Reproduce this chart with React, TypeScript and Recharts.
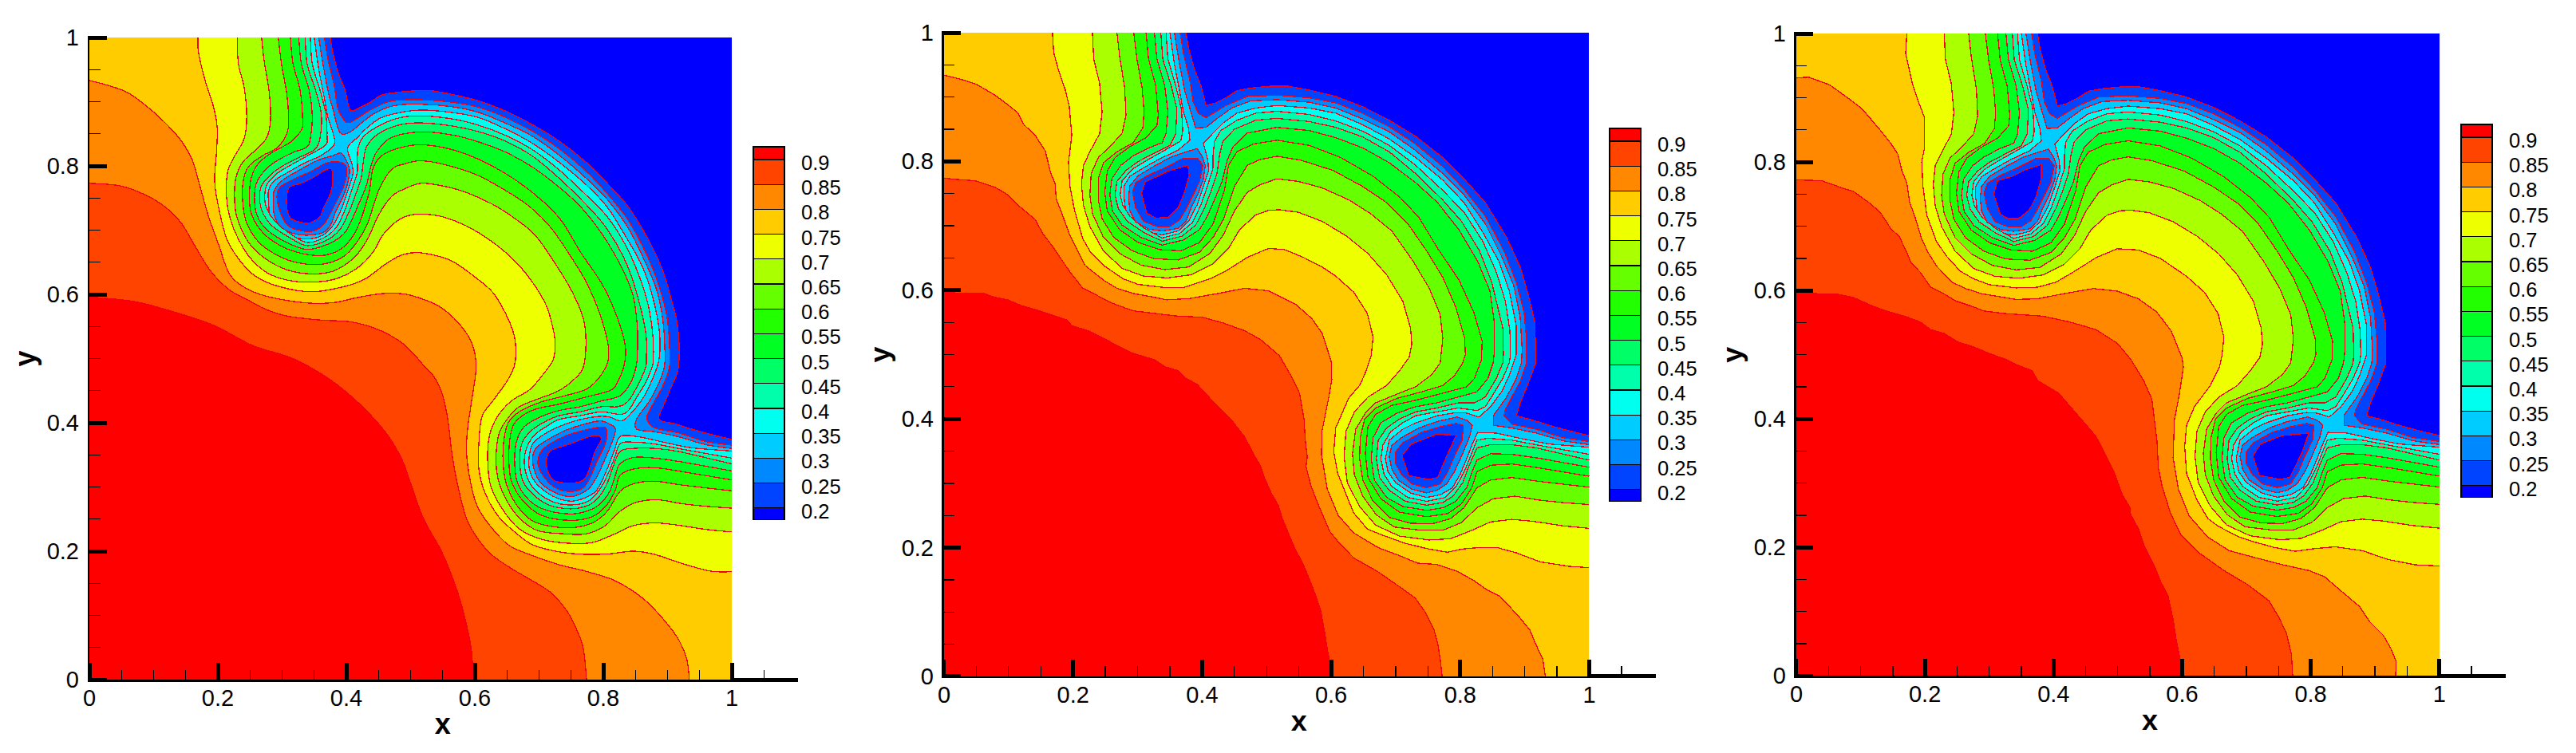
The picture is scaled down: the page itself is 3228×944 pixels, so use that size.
import React from "react";
import { ScatterChart, Scatter, XAxis, YAxis } from "recharts";

type Pt = [number, number];

// contour lines, region above each level lies towards the origin
const L90: Pt[] = [[0,.596],[.069,.589],[.127,.574],[.193,.552],[.255,.520],[.317,.500],[.375,.467],[.421,.429],[.462,.384],[.486,.344],[.499,.309],[.520,.251],[.549,.198],[.572,.140],[.586,.090],[.595,.044],[.597,0]];
const L85: Pt[] = [[0,.773],[.048,.769],[.089,.754],[.118,.736],[.143,.711],[.164,.676],[.189,.636],[.218,.607],[.247,.591],[.276,.576],[.309,.566],[.359,.560],[.408,.557],[.450,.545],[.483,.527],[.504,.508],[.524,.485],[.537,.471],[.549,.446],[.558,.405],[.564,.355],[.572,.309],[.587,.251],[.607,.216],[.628,.193],[.657,.173],[.686,.156],[.719,.135],[.744,.106],[.759,.077],[.769,.048],[.774,0]];
const L80: Pt[] = [[0,.933],[.027,.926],[.060,.914],[.094,.889],[.123,.862],[.143,.839],[.160,.810],[.172,.769],[.185,.723],[.201,.678],[.218,.632],[.243,.610],[.276,.597],[.334,.587],[.379,.587],[.417,.595],[.454,.601],[.487,.601],[.512,.595],[.545,.581],[.574,.556],[.595,.525],[.602,.487],[.595,.434],[.589,.392],[.587,.355],[.593,.309],[.603,.272],[.621,.243],[.652,.210],[.690,.193],[.731,.179],[.772,.169],[.814,.156],[.843,.140],[.868,.121],[.897,.090],[.918,.061],[.930,.032],[.934,0]];
const L75: Pt[] = [[.169,1],[.170,.976],[.181,.930],[.193,.893],[.199,.860],[.198,.823],[.195,.777],[.201,.736],[.214,.686],[.234,.653],[.259,.628],[.296,.612],[.346,.604],[.396,.612],[.429,.624],[.458,.645],[.483,.660],[.508,.665],[.537,.661],[.566,.651],[.599,.628],[.628,.603],[.648,.570],[.661,.537],[.664,.508],[.661,.487],[.649,.463],[.628,.434],[.611,.409],[.606,.363],[.606,.330],[.615,.293],[.636,.255],[.661,.231],[.690,.210],[.731,.199],[.773,.195],[.810,.196],[.847,.200],[.880,.195],[.922,.181],[.967,.169],[1,.168]];
const L70: Pt[] = [[.230,1],[.232,.959],[.241,.922],[.245,.877],[.241,.843],[.226,.815],[.216,.794],[.213,.765],[.216,.732],[.226,.699],[.247,.661],[.276,.634],[.309,.622],[.346,.619],[.383,.624],[.417,.641],[.441,.665],[.458,.694],[.483,.717],[.503,.724],[.520,.725],[.549,.721],[.586,.707],[.624,.684],[.657,.657],[.686,.624],[.711,.583],[.723,.541],[.725,.516],[.721,.496],[.706,.475],[.686,.452],[.657,.434],[.636,.411],[.623,.381],[.620,.342],[.625,.301],[.644,.264],[.669,.235],[.706,.218],[.752,.212],[.785,.214],[.818,.227],[.847,.240],[.880,.244],[.913,.241],[.959,.234],[1,.230]];
const L65: Pt[] = [[.268,1],[.272,.964],[.280,.914],[.282,.872],[.276,.844],[.259,.825],[.239,.806],[.228,.781],[.226,.748],[.230,.719],[.247,.682],[.272,.657],[.305,.639],[.342,.632],[.379,.636],[.412,.657],[.433,.686],[.450,.723],[.470,.752],[.490,.764],[.516,.773],[.549,.769],[.586,.759],[.628,.740],[.661,.719],[.694,.692],[.727,.645],[.752,.603],[.769,.562],[.773,.525],[.769,.487],[.756,.469],[.731,.450],[.698,.437],[.669,.425],[.653,.409],[.638,.384],[.633,.346],[.636,.313],[.649,.280],[.670,.251],[.698,.232],[.740,.227],[.773,.227],[.802,.239],[.826,.262],[.851,.276],[.885,.280],[.922,.274],[.959,.270],[1,.267]];
const L60: Pt[] = [[.294,1],[.299,.959],[.307,.914],[.310,.877],[.308,.852],[.293,.829],[.268,.815],[.247,.798],[.239,.773],[.239,.740],[.245,.711],[.263,.682],[.292,.661],[.325,.649],[.363,.647],[.396,.659],[.417,.682],[.433,.710],[.450,.761],[.470,.794],[.490,.803],[.516,.808],[.553,.802],[.603,.786],[.649,.761],[.686,.736],[.719,.703],[.748,.661],[.773,.620],[.793,.574],[.807,.525],[.808,.500],[.804,.487],[.791,.467],[.773,.452],[.740,.442],[.702,.432],[.669,.417],[.652,.400],[.645,.371],[.644,.338],[.649,.305],[.665,.272],[.690,.247],[.723,.238],[.756,.237],[.785,.245],[.806,.262],[.826,.293],[.847,.305],[.880,.309],[.922,.303],[1,.294]];
const L55: Pt[] = [[.313,1],[.317,.959],[.328,.918],[.332,.872],[.330,.856],[.313,.837],[.288,.823],[.265,.806],[.253,.785],[.249,.752],[.253,.723],[.272,.694],[.301,.674],[.334,.663],[.367,.661],[.396,.674],[.417,.703],[.435,.757],[.441,.794],[.454,.815],[.479,.827],[.516,.833],[.566,.825],[.615,.806],[.665,.777],[.707,.744],[.736,.713],[.765,.665],[.798,.616],[.821,.566],[.834,.521],[.833,.492],[.822,.463],[.810,.450],[.773,.440],[.731,.429],[.694,.421],[.669,.407],[.657,.388],[.653,.347],[.657,.309],[.677,.276],[.706,.255],[.748,.248],[.781,.253],[.802,.268],[.818,.293],[.826,.318],[.847,.328],[.880,.330],[.922,.324],[1,.311]];
const L50: Pt[] = [[.326,1],[.330,.959],[.342,.918],[.347,.877],[.344,.843],[.338,.829],[.317,.821],[.292,.808],[.274,.794],[.260,.773],[.257,.748],[.261,.723],[.276,.701],[.305,.682],[.338,.670],[.371,.678],[.396,.694],[.408,.715],[.419,.740],[.431,.769],[.439,.802],[.448,.823],[.470,.844],[.516,.853],[.566,.848],[.607,.837],[.649,.821],[.690,.798],[.731,.767],[.765,.736],[.798,.694],[.827,.645],[.846,.599],[.853,.549],[.853,.504],[.851,.487],[.843,.463],[.826,.442],[.797,.434],[.764,.425],[.731,.419],[.702,.409],[.677,.394],[.665,.371],[.662,.338],[.667,.305],[.686,.278],[.711,.264],[.748,.258],[.773,.262],[.793,.272],[.810,.293],[.820,.322],[.826,.336],[.847,.346],[.880,.345],[.922,.339],[1,.325]];
const L45: Pt[] = [[.336,1],[.339,.959],[.352,.918],[.361,.881],[.359,.843],[.350,.825],[.326,.813],[.301,.800],[.282,.786],[.268,.769],[.265,.748],[.270,.727],[.284,.707],[.309,.690],[.338,.676],[.369,.684],[.390,.701],[.404,.728],[.415,.757],[.423,.781],[.427,.810],[.432,.831],[.450,.850],[.483,.864],[.516,.867],[.566,.862],[.607,.853],[.649,.838],[.690,.815],[.731,.781],[.773,.740],[.802,.707],[.830,.661],[.849,.612],[.866,.541],[.867,.500],[.866,.487],[.856,.463],[.839,.434],[.822,.425],[.797,.425],[.764,.417],[.731,.411],[.706,.400],[.686,.386],[.673,.367],[.670,.338],[.675,.309],[.690,.289],[.715,.272],[.748,.266],[.773,.270],[.789,.280],[.804,.301],[.814,.328],[.826,.355],[.847,.360],[.880,.360],[.918,.355],[1,.336]];
const L40: Pt[] = [[.344,1],[.347,.959],[.359,.918],[.368,.881],[.370,.848],[.367,.832],[.338,.815],[.313,.801],[.292,.788],[.276,.770],[.273,.748],[.277,.732],[.288,.715],[.309,.697],[.338,.681],[.365,.688],[.385,.705],[.398,.732],[.408,.761],[.417,.790],[.417,.810],[.419,.831],[.429,.848],[.454,.864],[.483,.875],[.516,.878],[.566,.873],[.607,.863],[.649,.847],[.690,.825],[.731,.794],[.773,.755],[.806,.721],[.835,.676],[.856,.628],[.870,.583],[.877,.537],[.878,.500],[.876,.487],[.866,.463],[.851,.438],[.839,.419],[.826,.413],[.797,.417],[.764,.411],[.731,.405],[.711,.394],[.692,.380],[.680,.359],[.677,.338],[.682,.314],[.694,.295],[.719,.278],[.748,.272],[.777,.278],[.795,.297],[.808,.322],[.818,.347],[.826,.367],[.843,.370],[.880,.367],[.922,.359],[1,.345]];
const L35: Pt[] = [[.350,1],[.357,.951],[.365,.910],[.371,.877],[.379,.852],[.381,.833],[.362,.817],[.334,.804],[.309,.790],[.288,.777],[.279,.762],[.279,.744],[.282,.719],[.297,.703],[.317,.690],[.338,.686],[.363,.692],[.379,.707],[.392,.732],[.402,.761],[.410,.786],[.409,.802],[.402,.828],[.417,.844],[.433,.860],[.454,.875],[.483,.883],[.516,.887],[.566,.883],[.607,.875],[.649,.857],[.690,.835],[.731,.806],[.773,.771],[.806,.736],[.835,.690],[.860,.645],[.876,.599],[.887,.545],[.887,.500],[.876,.467],[.864,.442],[.847,.419],[.829,.403],[.810,.409],[.794,.410],[.764,.405],[.731,.394],[.711,.384],[.690,.367],[.684,.338],[.688,.318],[.700,.301],[.723,.285],[.748,.278],[.769,.282],[.788,.293],[.800,.314],[.810,.338],[.818,.359],[.827,.379],[.856,.378],[.897,.369],[.938,.361],[1,.356]];
const L30: Pt[] = [[.357,1],[.365,.951],[.373,.910],[.379,.889],[.390,.852],[.406,.853],[.425,.868],[.446,.883],[.475,.894],[.516,.896],[.566,.892],[.607,.883],[.649,.866],[.690,.846],[.731,.817],[.773,.781],[.806,.748],[.839,.703],[.864,.653],[.883,.607],[.893,.558],[.896,.508],[.895,.487],[.887,.463],[.872,.434],[.852,.406],[.852,.390],[.880,.386],[.918,.378],[.959,.366],[1,.360]];
const L25: Pt[] = [[.366,1],[.371,.968],[.381,.926],[.386,.893],[.394,.875],[.406,.868],[.437,.887],[.470,.901],[.516,.903],[.566,.899],[.607,.891],[.649,.875],[.690,.854],[.731,.827],[.773,.792],[.806,.757],[.839,.715],[.868,.661],[.887,.612],[.899,.566],[.903,.521],[.903,.487],[.893,.458],[.880,.434],[.870,.415],[.868,.405],[.880,.392],[.918,.384],[.959,.371],[1,.365]];
const L20: Pt[] = [[.375,1],[.379,.976],[.388,.943],[.398,.918],[.406,.887],[.421,.891],[.437,.899],[.454,.910],[.475,.914],[.507,.917],[.533,.917],[.566,.911],[.607,.901],[.649,.885],[.690,.864],[.731,.839],[.773,.806],[.806,.773],[.839,.736],[.872,.682],[.893,.636],[.905,.595],[.916,.549],[.917,.487],[.905,.454],[.893,.425],[.887,.405],[.913,.398],[.938,.390],[.967,.382],[1,.374]];

// closed pockets of low values around the two saddle points
const UPPER_30: Pt[] = [[.392,.820],[.400,.808],[.405,.794],[.402,.773],[.394,.750],[.383,.728],[.375,.707],[.363,.696],[.338,.692],[.317,.695],[.297,.706],[.288,.723],[.286,.744],[.288,.762],[.301,.778],[.326,.793],[.354,.808],[.379,.816]];
const UPPER_25: Pt[] = [[.371,.805],[.393,.805],[.401,.794],[.396,.769],[.386,.748],[.375,.726],[.365,.709],[.350,.699],[.330,.699],[.309,.707],[.297,.728],[.292,.752],[.297,.767],[.317,.779],[.342,.790]];
const UPPER_20: Pt[] = [[.375,.796],[.379,.777],[.375,.757],[.365,.736],[.359,.721],[.342,.711],[.330,.712],[.313,.719],[.307,.740],[.311,.766],[.330,.773],[.350,.783]];
const LOWER_30: Pt[] = [[.795,.403],[.810,.398],[.819,.390],[.814,.371],[.802,.342],[.791,.318],[.779,.299],[.764,.289],[.748,.285],[.725,.291],[.704,.305],[.694,.322],[.690,.342],[.694,.359],[.709,.371],[.736,.386],[.764,.396]];
const LOWER_25: Pt[] = [[.794,.393],[.805,.390],[.803,.367],[.791,.342],[.781,.318],[.769,.299],[.748,.293],[.725,.299],[.709,.314],[.699,.332],[.700,.349],[.711,.363],[.740,.379],[.769,.388]];
const LOWER_20: Pt[] = [[.797,.376],[.787,.355],[.779,.330],[.769,.311],[.748,.306],[.722,.311],[.712,.330],[.712,.345],[.719,.357],[.748,.367],[.781,.379]];

// second panel, rougher outer contours and pocket cores
const P2_L90: Pt[] = [[0,.597],[.029,.595],[.062,.595],[.078,.589],[.099,.585],[.120,.576],[.141,.570],[.165,.562],[.190,.554],[.198,.545],[.223,.537],[.248,.525],[.268,.514],[.293,.502],[.326,.492],[.343,.481],[.363,.475],[.375,.463],[.392,.454],[.417,.427],[.445,.399],[.466,.372],[.481,.343],[.491,.326],[.496,.310],[.508,.283],[.518,.266],[.524,.246],[.536,.217],[.545,.196],[.556,.176],[.563,.159],[.576,.126],[.584,.101],[.590,.068],[.594,.043],[.597,.027],[.597,0]];
const P2_L85: Pt[] = [[0,.774],[.021,.772],[.048,.770],[.079,.760],[.099,.748],[.116,.731],[.141,.710],[.153,.688],[.169,.667],[.194,.630],[.215,.603],[.235,.593],[.260,.580],[.293,.568],[.326,.564],[.359,.560],[.400,.558],[.433,.549],[.466,.537],[.491,.523],[.520,.498],[.539,.465],[.551,.440],[.558,.399],[.560,.366],[.563,.341],[.561,.326],[.569,.295],[.582,.262],[.598,.225],[.611,.209],[.635,.184],[.672,.163],[.705,.140],[.730,.122],[.745,.101],[.759,.074],[.765,.052],[.769,.027],[.772,0]];
const P2_L80: Pt[] = [[0,.934],[.025,.928],[.050,.920],[.079,.903],[.099,.888],[.114,.876],[.124,.857],[.141,.841],[.157,.816],[.165,.783],[.172,.766],[.174,.741],[.182,.721],[.194,.688],[.204,.667],[.219,.638],[.248,.615],[.268,.603],[.293,.595],[.326,.589],[.345,.585],[.380,.587],[.425,.595],[.466,.603],[.503,.599],[.545,.578],[.570,.556],[.586,.533],[.600,.490],[.601,.461],[.596,.432],[.586,.382],[.585,.345],[.594,.291],[.611,.250],[.635,.223],[.673,.200],[.705,.188],[.734,.176],[.763,.174],[.796,.163],[.821,.149],[.842,.134],[.862,.124],[.891,.093],[.908,.072],[.918,.048],[.928,.027],[.932,0]];
const P2_L75: Pt[] = [[.168,1],[.170,.969],[.178,.940],[.188,.911],[.194,.886],[.198,.841],[.193,.799],[.195,.762],[.202,.725],[.215,.680],[.227,.659],[.248,.638],[.277,.618],[.301,.609],[.343,.604],[.371,.604],[.413,.618],[.437,.630],[.470,.651],[.503,.665],[.528,.663],[.557,.651],[.586,.636],[.607,.622],[.635,.597],[.656,.564],[.665,.527],[.662,.498],[.652,.469],[.644,.452],[.627,.432],[.607,.386],[.604,.349],[.610,.316],[.623,.283],[.635,.254],[.656,.229],[.681,.219],[.714,.207],[.751,.198],[.780,.193],[.804,.198],[.827,.200],[.858,.200],[.887,.192],[.924,.178],[.969,.171],[1,.169]];
const P2_UPPER_20: Pt[] = [[.378,.794],[.380,.779],[.372,.750],[.363,.729],[.347,.713],[.328,.712],[.314,.720],[.306,.750],[.312,.768],[.347,.785]];
const P2_LOWER_20: Pt[] = [[.794,.375],[.782,.349],[.765,.309],[.751,.306],[.720,.312],[.710,.343],[.724,.361],[.763,.376]];

// third panel
const P3_L90: Pt[] = [[0,.597],[.031,.595],[.065,.594],[.089,.589],[.118,.576],[.143,.567],[.168,.560],[.193,.551],[.209,.539],[.230,.533],[.251,.520],[.276,.512],[.300,.502],[.325,.493],[.346,.483],[.367,.475],[.375,.460],[.408,.440],[.441,.402],[.466,.373],[.483,.340],[.495,.315],[.507,.282],[.519,.262],[.520,.251],[.532,.229],[.542,.200],[.557,.171],[.567,.146],[.578,.125],[.586,.088],[.591,.055],[.597,.026],[.597,0]];
const P3_L85: Pt[] = [[0,.772],[.039,.771],[.073,.759],[.089,.754],[.114,.736],[.131,.721],[.147,.696],[.160,.684],[.172,.659],[.178,.644],[.193,.628],[.209,.605],[.226,.597],[.247,.584],[.271,.576],[.292,.568],[.325,.564],[.383,.560],[.425,.551],[.466,.539],[.499,.518],[.520,.493],[.540,.460],[.553,.431],[.561,.365],[.563,.324],[.569,.295],[.582,.253],[.598,.220],[.627,.191],[.665,.164],[.702,.142],[.735,.117],[.750,.092],[.762,.067],[.770,.034],[.772,0]];
const P3_L80: Pt[] = [[0,.931],[.019,.932],[.052,.920],[.081,.899],[.102,.883],[.131,.849],[.147,.829],[.158,.812],[.164,.787],[.172,.767],[.176,.738],[.185,.713],[.195,.680],[.205,.659],[.218,.638],[.242,.613],[.263,.603],[.288,.595],[.342,.586],[.375,.587],[.416,.595],[.462,.603],[.499,.599],[.532,.587],[.560,.567],[.583,.537],[.600,.495],[.602,.481],[.596,.440],[.588,.398],[.586,.340],[.594,.291],[.611,.249],[.640,.216],[.673,.195],[.710,.185],[.756,.173],[.797,.164],[.822,.154],[.851,.129],[.876,.108],[.892,.084],[.913,.063],[.925,.042],[.933,.022],[.932,0]];
const P3_L75: Pt[] = [[.172,1],[.170,.969],[.180,.924],[.191,.891],[.199,.870],[.199,.820],[.195,.800],[.197,.762],[.203,.717],[.218,.676],[.234,.653],[.255,.630],[.276,.618],[.300,.609],[.342,.604],[.375,.605],[.404,.613],[.433,.630],[.466,.651],[.499,.665],[.532,.663],[.566,.650],[.607,.622],[.635,.597],[.656,.564],[.665,.527],[.662,.498],[.658,.481],[.644,.452],[.619,.419],[.607,.390],[.604,.357],[.607,.315],[.623,.274],[.640,.245],[.656,.233],[.689,.216],[.714,.208],[.743,.200],[.776,.194],[.805,.198],[.838,.201],[.880,.195],[.921,.181],[.962,.173],[1,.171]];
const P3_UPPER_20: Pt[] = [[.381,.796],[.381,.775],[.373,.746],[.362,.725],[.346,.712],[.329,.712],[.317,.719],[.307,.750],[.313,.771],[.334,.777],[.354,.787]];
const P3_LOWER_20: Pt[] = [[.797,.378],[.787,.349],[.768,.309],[.752,.306],[.720,.312],[.710,.342],[.722,.361],[.755,.374]];

// colour of the band just above each level, low to high
const BAND_COLORS = ["#0044ff", "#0088ff", "#00ccff", "#00ffee", "#00ffaa", "#00ff66", "#00ff22", "#22ff00", "#66ff00", "#aaff00", "#eeff00", "#ffcc00", "#ff8800", "#ff4400", "#ff0000"];
const LEGEND_LABELS = ["0.9", "0.85", "0.8", "0.75", "0.7", "0.65", "0.6", "0.55", "0.5", "0.45", "0.4", "0.35", "0.3", "0.25", "0.2"];
const LEGEND_COLORS = ["#ff0000", "#ff4400", "#ff8800", "#ffcc00", "#eeff00", "#aaff00", "#66ff00", "#22ff00", "#00ff22", "#00ff66", "#00ffaa", "#00ffee", "#00ccff", "#0088ff", "#0044ff", "#0000ff"];

const MID_LEVELS = [L20, L25, L30, L35, L40, L45, L50, L55, L60, L65, L70];
const P1_CONTOURS = [...MID_LEVELS, L75, L80, L85, L90];
const P2_CONTOURS = [...MID_LEVELS, P2_L75, P2_L80, P2_L85, P2_L90];
const P3_CONTOURS = [...MID_LEVELS, P3_L75, P3_L80, P3_L85, P3_L90];

const POCKET_COLORS = ["#0088ff", "#0044ff", "#0000ff", "#0088ff", "#0044ff", "#0000ff"];
const P1_POCKETS = [UPPER_30, UPPER_25, UPPER_20, LOWER_30, LOWER_25, LOWER_20];
const P2_POCKETS = [UPPER_30, UPPER_25, P2_UPPER_20, LOWER_30, LOWER_25, P2_LOWER_20];
const P3_POCKETS = [UPPER_30, UPPER_25, P3_UPPER_20, LOWER_30, LOWER_25, P3_LOWER_20];

const X_TICKS = [0, 0.05, 0.1, 0.15, 0.2, 0.25, 0.3, 0.35, 0.4, 0.45, 0.5, 0.55, 0.6, 0.65, 0.7, 0.75, 0.8, 0.85, 0.9, 0.95, 1, 1.05];
const Y_TICKS = [0, 0.05, 0.1, 0.15, 0.2, 0.25, 0.3, 0.35, 0.4, 0.45, 0.5, 0.55, 0.6, 0.65, 0.7, 0.75, 0.8, 0.85, 0.9, 0.95, 1];
const MAJOR_TICKS = [0, 0.2, 0.4, 0.6, 0.8, 1];

const FONT = "'Liberation Sans', Arial, sans-serif";
const LINE_COLOR = "#f00014";

type XY = { x: number; y: number };

// catmull-rom through the read points so panel one stays smooth
function smoothPath(p: XY[], closed: boolean) {
  const at = (i: number) => (closed ? p[(i + p.length) % p.length] : p[Math.max(0, Math.min(p.length - 1, i))]);
  let d = `M${p[0].x},${p[0].y}`;
  const n = closed ? p.length : p.length - 1;
  for (let i = 0; i < n; i++) {
    const a = at(i - 1), b = at(i), c = at(i + 1), e = at(i + 2);
    d += `C${b.x + (c.x - a.x) / 6},${b.y + (c.y - a.y) / 6} ${c.x - (e.x - b.x) / 6},${c.y - (e.y - b.y) / 6} ${c.x},${c.y}`;
  }
  return closed ? d + "Z" : d;
}

function roughPath(p: XY[], closed: boolean) {
  return "M" + p.map((q) => `${q.x},${q.y}`).join("L") + (closed ? "Z" : "");
}

function toData(pts: Pt[]) {
  return pts.map(([x, y]) => ({ x, y }));
}

// region over a level: the contour plus the corners of the square that close it
function closeRegion(pts: Pt[]): Pt[] {
  const end = pts[pts.length - 1];
  const start = pts[0];
  const corners: Pt[] = [];
  if (end[0] === 1) corners.push([1, 0]);
  corners.push([0, 0]);
  if (start[1] === 1) corners.push([0, 1]);
  return [...pts, ...corners];
}

function contourLine(color: string, contourLen: number, closed: boolean, smooth: boolean) {
  return (props: any) => {
    const pts: XY[] = props.points;
    const line = pts.slice(0, contourLen);
    const d = smooth ? smoothPath(line, closed) : roughPath(line, closed);
    const rest = pts.slice(contourLen).map((q) => `L${q.x},${q.y}`).join("");
    return (
      <g shapeRendering="crispEdges">
        <path d={d + rest + (closed ? "" : "Z")} fill={color} stroke="none" />
        <path d={d} fill="none" stroke={LINE_COLOR} strokeWidth={1.3} />
      </g>
    );
  };
}

function XTick({ x, y, payload }: any) {
  const major = MAJOR_TICKS.includes(payload.value);
  return (
    <g>
      <line x1={x} x2={x} y1={y} y2={y - (major ? 21 : 12.5)} stroke="#000" strokeWidth={major ? 5 : 1.3} shapeRendering="crispEdges" />
      {major && (
        <text x={x} y={y + 33} textAnchor="middle" fontSize={29} fontFamily={FONT} fill="#000">
          {payload.value}
        </text>
      )}
    </g>
  );
}

function YTick({ x, y, payload }: any) {
  const major = MAJOR_TICKS.includes(payload.value);
  return (
    <g>
      <line x1={x} x2={x + (major ? 21.5 : 13.5)} y1={y} y2={y} stroke="#000" strokeWidth={major ? 5 : 1.3} shapeRendering="crispEdges" />
      {major && (
        <text x={x - 13} y={y + 10} textAnchor="end" fontSize={29} fontFamily={FONT} fill="#000">
          {payload.value}
        </text>
      )}
    </g>
  );
}

function ColorLegend({ left, top }: { left: number; top: number }) {
  const w = 39;
  const step = 31.2;
  const heights = LEGEND_COLORS.map((_, i) => (i === 0 ? 16 : i === LEGEND_COLORS.length - 1 ? 15 : step));
  let yy = 0;
  return (
    <svg style={{ position: "absolute", left, top }} width={120} height={490}>
      <g transform="translate(1,1)">
        {LEGEND_COLORS.map((c, i) => {
          const r = <rect key={c} x={0} y={yy} width={w} height={heights[i]} fill={c} stroke="#000" strokeWidth={1.2} shapeRendering="crispEdges" />;
          yy += heights[i];
          return r;
        })}
        {LEGEND_LABELS.map((t, i) => (
          <text key={t} x={60} y={16 + i * step + 13} fontSize={25.5} fontFamily={FONT} fill="#000">
            {t}
          </text>
        ))}
      </g>
    </svg>
  );
}

type PanelProps = { left: number; top: number; w: number; h: number; legendLeft: number; legendTop: number; contours: Pt[][]; pockets: Pt[][]; smooth: boolean };

function ContourPanel({ left, top, w, h, legendLeft, legendTop, contours, pockets, smooth }: PanelProps) {
  const padL = 100;
  const padT = 30;
  const padB = 90;
  return (
    <>
      <div style={{ position: "absolute", left: left - padL, top: top - padT }}>
        <ScatterChart width={padL + w * 1.1 + 20} height={padT + h + padB} margin={{ top: padT, right: 20, bottom: 0, left: 0 }}>
          <Scatter data={toData([[0, 0], [1, 0], [1, 1], [0, 1]])} isAnimationActive={false} shape={() => null} line={(p: any) => <path d={roughPath(p.points, true)} fill="#0000ff" shapeRendering="crispEdges" />} />
          {contours.map((c, i) => (
            <Scatter key={i} data={toData(closeRegion(c))} isAnimationActive={false} shape={() => null} line={contourLine(BAND_COLORS[i], c.length, false, smooth)} />
          ))}
          {pockets.map((pts, i) => (
            <Scatter key={"p" + i} data={toData(pts)} isAnimationActive={false} shape={() => null} line={contourLine(POCKET_COLORS[i], pts.length, true, smooth)} />
          ))}
          <XAxis
            type="number"
            dataKey="x"
            domain={[0, 1.1]}
            ticks={X_TICKS}
            interval={0}
            height={padB}
            tickSize={0}
            tickMargin={0}
            tickLine={false}
            axisLine={{ stroke: "#000", strokeWidth: 5, strokeLinecap: "square", shapeRendering: "crispEdges" }}
            tick={(p: any) => <XTick {...p} />}
            label={{ value: "x", position: "insideBottom", offset: 22, style: { fontSize: 36, fontWeight: "bold", fontFamily: FONT, fill: "#000" } }}
          />
          <YAxis
            type="number"
            dataKey="y"
            domain={[0, 1]}
            ticks={Y_TICKS}
            interval={0}
            width={padL}
            tickSize={0}
            tickMargin={0}
            tickLine={false}
            axisLine={{ stroke: "#000", strokeWidth: 5, strokeLinecap: "square", shapeRendering: "crispEdges" }}
            tick={(p: any) => <YTick {...p} />}
            label={{ value: "y", angle: -90, position: "insideLeft", offset: 19, style: { fontSize: 36, fontWeight: "bold", fontFamily: FONT, fill: "#000", textAnchor: "middle" } }}
          />
        </ScatterChart>
      </div>
      <ColorLegend left={legendLeft} top={legendTop} />
    </>
  );
}

export default function App() {
  return (
    <div style={{ position: "absolute", left: 0, top: 0, width: 3228, height: 944, background: "#fff", overflow: "hidden" }}>
      <ContourPanel left={111.5} top={47.3} w={805} h={805} legendLeft={942.5} legendTop={182.5} contours={P1_CONTOURS} pockets={P1_POCKETS} smooth />
      <ContourPanel left={1183} top={41.3} w={808.5} h={807} legendLeft={2015.5} legendTop={159.5} contours={P2_CONTOURS} pockets={P2_POCKETS} smooth={false} />
      <ContourPanel left={2251.3} top={42} w={805.7} h={805.3} legendLeft={3082.5} legendTop={154.5} contours={P3_CONTOURS} pockets={P3_POCKETS} smooth={false} />
    </div>
  );
}
